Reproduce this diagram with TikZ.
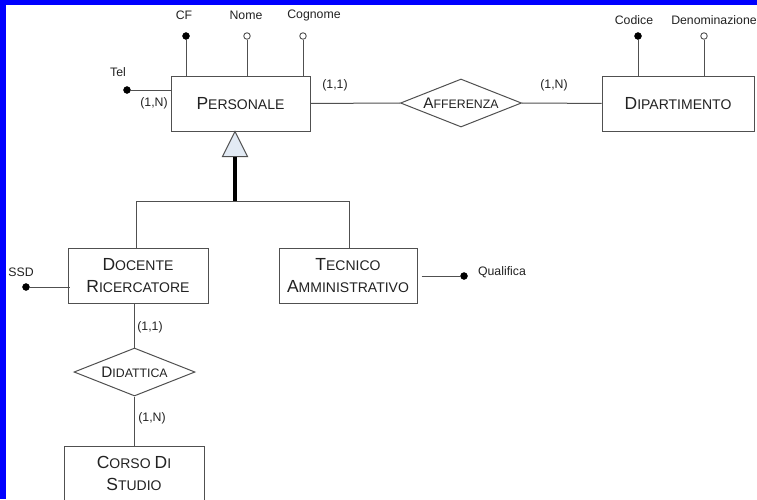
\documentclass[tikz,border=0pt]{standalone}
\usepackage{fontspec}
\setmainfont{Liberation Sans}
\usetikzlibrary{shapes.geometric}

% first letter of an entity / relationship name set larger (fake small caps)
\newcommand\EntCap[1]{{\fontsize{17.5}{22}\selectfont #1}}
\newcommand\RelCap[1]{{\fontsize{15.3}{18}\selectfont #1}}

\definecolor{edgegray}{HTML}{505050}
\definecolor{inkgray}{HTML}{222222}
\definecolor{isafill}{HTML}{E2EAF4}
\definecolor{frameblue}{HTML}{0000FF}

\tikzset{
  entity/.style={draw=edgegray, line width=1pt, fill=white, rectangle,
    inner sep=0pt, align=center, text=inkgray,
    font=\fontsize{14}{22}\selectfont},
  relation/.style={draw=edgegray, line width=1pt, fill=white, diamond,
    aspect=2.52, inner sep=0pt, minimum width=121pt, minimum height=48pt,
    text=inkgray, font=\fontsize{12.3}{15}\selectfont},
  link/.style={draw=edgegray, line width=1pt},
  keydot/.style={circle, fill=black, draw=black, inner sep=0pt, minimum size=7pt},
  optdot/.style={circle, fill=white, draw=edgegray, line width=0.9pt, inner sep=0pt, minimum size=6.5pt},
  lbl/.style={inner sep=0pt, text=inkgray, font=\fontsize{12.3}{14}\selectfont},
}

\begin{document}
\begin{tikzpicture}[x=1pt, y=-1pt]
  \useasboundingbox (0,0) rectangle (757,499);
  \fill[white] (0,0) rectangle (757,499);
  % blue frame on the top and left edges
  \fill[frameblue] (0,0) rectangle (757,5);
  \fill[frameblue] (0,0) rectangle (6,499);

  % entities
  \node[entity, minimum width=139pt, minimum height=55pt] (personale) at (240.5,103.5) {\EntCap{P}ERSONALE};
  \node[entity, minimum width=152pt, minimum height=55pt] (dipartimento) at (678,103.5) {\EntCap{D}IPARTIMENTO};
  \node[entity, minimum width=140pt, minimum height=55pt] (docente) at (138,275.5) {\EntCap{D}OCENTE\\\EntCap{R}ICERCATORE};
  \node[entity, minimum width=138pt, minimum height=55pt] (tecnico) at (348,275.5) {\EntCap{T}ECNICO\\\EntCap{A}MMINISTRATIVO};
  \node[entity, minimum width=140pt, minimum height=55pt] (corso) at (134,473.5) {\EntCap{C}ORSO \EntCap{D}I\\\EntCap{S}TUDIO};

  % relationships
  \node[relation] (afferenza) at (461,103) {\RelCap{A}FFERENZA};
  \node[relation] (didattica) at (134.5,372) {\RelCap{D}IDATTICA};

  % Afferenza links
  \draw[link] (personale) -- (afferenza);
  \draw[link] (afferenza) -- (dipartimento);
  \node[lbl] (c11a) at (335,85) {(1,1)};
  \node[lbl] (c1na) at (554,85) {(1,N)};

  % Didattica links
  \draw[link] (didattica.north) -- (didattica.north |- docente.south);
  \draw[link] (didattica.south) -- (didattica.south |- corso.north);
  \node[lbl] (c11d) at (150,327) {(1,1)};
  \node[lbl] (c1nd) at (152,418) {(1,N)};

  % attributes of Personale
  \node[keydot] (cf) at (186,36) {};
  \node[optdot] (nome) at (247,36) {};
  \node[optdot] (cognome) at (303,36) {};
  \draw[link] (cf) -- (cf |- personale.north);
  \draw[link] (nome) -- (nome |- personale.north);
  \draw[link] (cognome) -- (cognome |- personale.north);
  \node[lbl] (cflbl) at (184,15) {CF};
  \node[lbl] (nomelbl) at (246,15) {Nome};
  \node[lbl] (cognomelbl) at (314,15) {Cognome};

  \node[keydot] (tel) at (127,90) {};
  \draw[link] (tel) -- (tel -| personale.west);
  \node[lbl] (tellbl) at (118,72) {Tel};
  \node[lbl] (c1nt) at (154,103) {(1,N)};

  % attributes of Dipartimento
  \node[keydot] (codice) at (638,36) {};
  \node[optdot] (denom) at (704,36) {};
  \draw[link] (codice) -- (codice |- dipartimento.north);
  \draw[link] (denom) -- (denom |- dipartimento.north);
  \node[lbl] (codicelbl) at (634,20) {Codice};
  \node[lbl] (denomlbl) at (714,20) {Denominazione};

  % attributes of the child entities
  \node[keydot] (ssd) at (26,287) {};
  \draw[link] (ssd) -- ([xshift=2pt]docente.west |- ssd);
  \node[lbl] (ssdlbl) at (21,272) {SSD};

  \node[keydot] (qualifica) at (464,276) {};
  \draw[link] ([xshift=4pt]tecnico.east |- qualifica) -- (qualifica);
  \node[lbl] (qualificalbl) at (502,272) {Qualifica};

  % total generalization of Personale
  \coordinate (isa) at (personale.south -| 235,0);
  \filldraw[fill=isafill, draw=edgegray, line width=1pt]
    (isa) -- ++(12.5,25) -- ++(-25,0) -- cycle;
  \coordinate (isabase) at ([yshift=-25pt]isa);
  \coordinate (fork) at (235,201);
  \draw[black, line width=4pt] (isabase) -- (fork);
  \draw[link] (136,201) -- (349,201);
  \draw[link] (136,201) -- (136,201 |- docente.north);
  \draw[link] (349,201) -- (349,201 |- tecnico.north);
\end{tikzpicture}
\end{document}
